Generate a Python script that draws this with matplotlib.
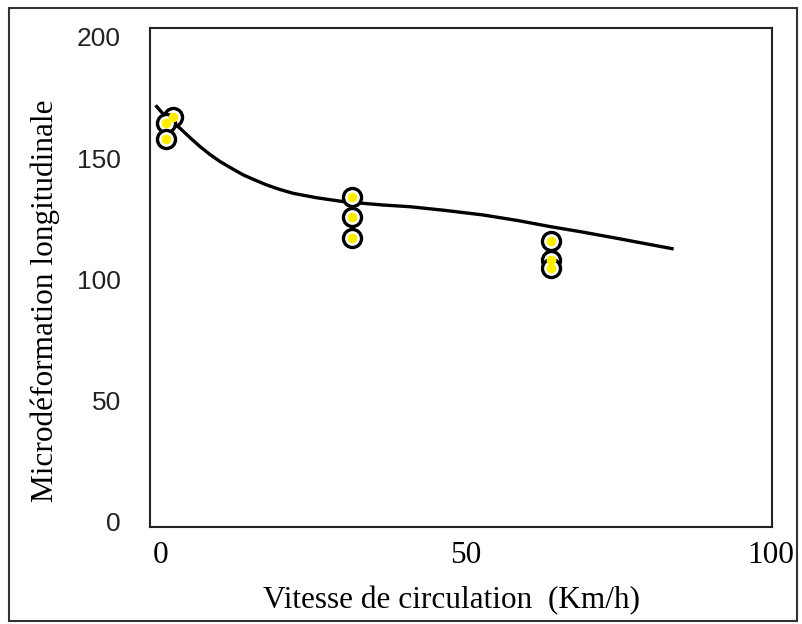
import matplotlib.pyplot as plt
from matplotlib.patches import Rectangle

vitesse = [2.0, 0.8, 0.9, 31.4, 31.4, 31.4, 63.9, 64.0, 64.0]
microdef = [167.1, 164.4, 157.9, 133.9, 125.9, 117.0, 115.9, 108.0, 104.6]

# courbe de tendance
courbe_x = [-0.7, 1.0, 3.1, 4.8, 6.4, 8.0, 9.7, 11.6, 13.5, 15.4, 17.3, 19.5, 21.7,
            25.5, 29.9, 36.4, 40.8, 46.5, 52.8, 58.5, 63.8, 69.0, 74.7, 78.5, 83.8]
courbe_y = [171.3, 166.4, 162.4, 158.4, 154.8, 151.6, 148.6, 145.8, 143.1, 141.0, 139.0, 137.1, 135.5,
            133.7, 132.1, 130.7, 130.0, 128.5, 126.6, 124.3, 121.8, 119.6, 117.0, 115.2, 112.7]

serif = ['Liberation Serif', 'DejaVu Serif']
sans = ['Liberation Sans', 'DejaVu Sans']

fig = plt.figure(figsize=(8.03, 6.24), dpi=100)
fig.patches.append(Rectangle((9 / 803, 1 - 621 / 624), 788 / 803, 613 / 624,
                             transform=fig.transFigure, fill=False,
                             edgecolor='#333333', linewidth=1.5))

ax = fig.add_axes([150 / 803, 1 - 527 / 624, 622 / 803, 499 / 624])
ax.plot(courbe_x, courbe_y, color='black', linewidth=2.4, zorder=2)
ax.plot(vitesse, microdef, linestyle='none', marker='o', markersize=13,
        markerfacecolor='white', markeredgecolor='black', markeredgewidth=2.4, zorder=3)
ax.plot(vitesse, microdef, linestyle='none', marker='o', markersize=7,
        markerfacecolor='#ffee00', markeredgecolor='none', zorder=4)

ax.set_xlim(-1.8, 100.2)
ax.set_ylim(-2.1, 203.7)
ax.set_xticks([0, 50, 100])
ax.set_yticks([0, 50, 100, 150, 200])
ax.set_xticklabels(['0', '50', '100'], family=serif, fontsize=22.5)
ax.set_yticklabels(['0', '50', '100', '150', '200'], family=sans, fontsize=19, color='#222222')
ax.tick_params(axis='both', length=0)
ax.tick_params(axis='y', pad=21)
ax.tick_params(axis='x', pad=10)
for s in ax.spines.values():
    s.set_linewidth(1.5)
    s.set_color('#222222')

ax.set_xlabel('Vitesse de circulation  (Km/h)', family=serif, fontsize=22.5)
ax.xaxis.set_label_coords(0.485, -0.118)
ax.set_ylabel('Microdéformation longitudinale', family=serif, fontsize=22.5)
ax.yaxis.set_label_coords(-0.145, 0.453)

fig.savefig('out.png', dpi=100)
